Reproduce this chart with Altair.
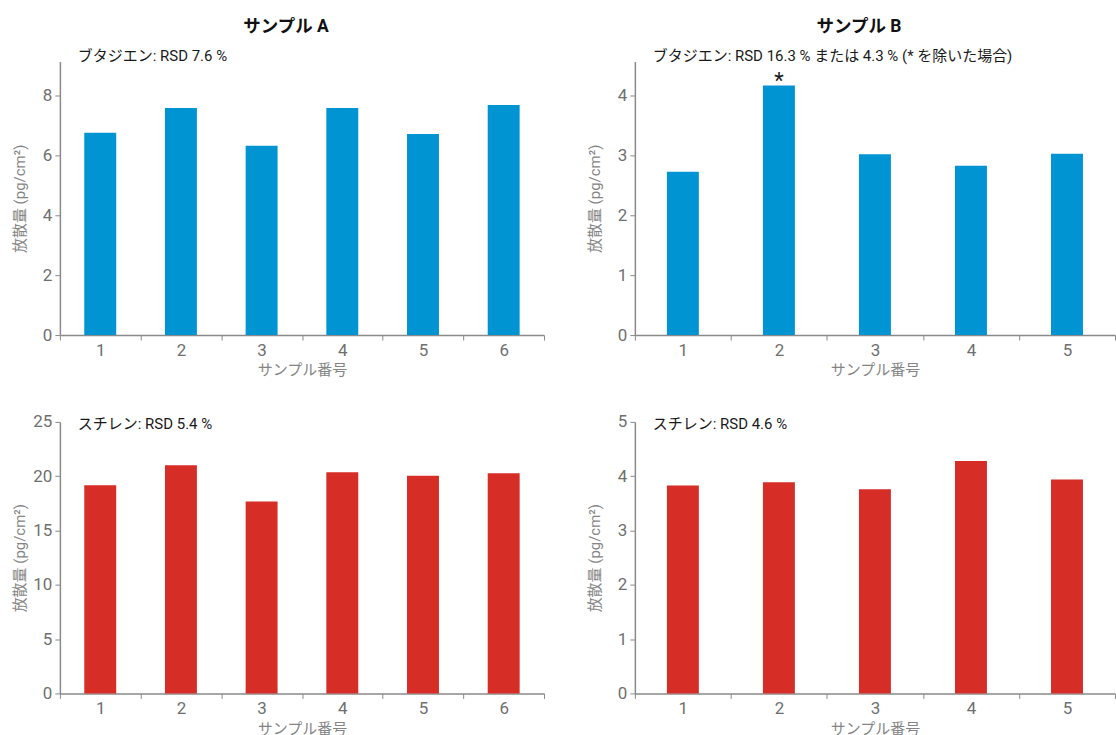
import altair as alt
import pandas as pd

FONT = "Roboto, Noto Sans CJK JP, sans-serif"

# ---- data ----
samples_a = [1, 2, 3, 4, 5, 6]
samples_b = [1, 2, 3, 4, 5]
butadiene_a = [6.77, 7.60, 6.33, 7.60, 6.73, 7.70]
butadiene_b = [2.73, 4.17, 3.02, 2.83, 3.03]
styrene_a = [19.16, 21.00, 17.68, 20.36, 20.05, 20.27]
styrene_b = [3.83, 3.89, 3.76, 4.28, 3.94]
outlier_b = ["", "*", "", "", ""]

column_titles = ["サンプル A", "サンプル B"]
notes = [
    "ブタジエン: RSD 7.6 %",
    "ブタジエン: RSD 16.3 % または 4.3 % (* を除いた場合)",
    "スチレン: RSD 5.4 %",
    "スチレン: RSD 4.6 %",
]
x_title = "サンプル番号"
y_title = "放散量 (pg/cm²)"

BLUE = "#0095d2"
RED = "#d62d26"


def panel(samples, values, color, domain, ticks, note, note_y, width, height,
          title=None, marks=None):
    df = pd.DataFrame({"sample": samples, "value": values})
    if marks is not None:
        df["mark"] = marks
    x = alt.X("sample:O", title=x_title,
              scale=alt.Scale(paddingInner=0, paddingOuter=0),
              axis=alt.Axis(labelAngle=0, tickBand="extent", titlePadding=5,
                            labelPadding=2))
    y = alt.Y("value:Q", title=y_title,
              scale=alt.Scale(domain=domain, nice=False, zero=True),
              axis=alt.Axis(values=ticks, titleX=-40, titleY=height / 2,
                            titleAngle=-90, titleBaseline="middle",
                            titleAlign="center", labelPadding=3))
    bars = alt.Chart(df).mark_bar(size=32, color=color).encode(x=x, y=y)
    note_df = pd.DataFrame({"note": [note]})
    txt = alt.Chart(note_df).mark_text(
        align="left", baseline="middle", fontSize=15, font=FONT, color="#1a1a1a"
    ).encode(x=alt.value(18), y=alt.value(note_y), text="note:N")
    layers = [bars, txt]
    if marks is not None:
        star = alt.Chart(df).mark_text(
            baseline="alphabetic", dy=3, fontSize=22, font=FONT, color="#1a1a1a"
        ).encode(x=x, y=y, text="mark:N")
        layers.append(star)
    ch = alt.layer(*layers).properties(width=width, height=height)
    if title is not None:
        ch = ch.properties(title=alt.TitleParams(
            title, fontSize=17.5, fontWeight="bold", font=FONT, color="#111111",
            anchor="middle", frame="group", offset=13, dx=-16))
    return ch


tl = panel(samples_a, butadiene_a, BLUE, [0, 9.15], [0, 2, 4, 6, 8], notes[0], -6,
           485, 274, title=column_titles[0])
tr = panel(samples_b, butadiene_b, BLUE, [0, 4.57], [0, 1, 2, 3, 4], notes[1], -6,
           481, 274, title=column_titles[1], marks=outlier_b)
bl = panel(samples_a, styrene_a, RED, [0, 25], [0, 5, 10, 15, 20, 25], notes[2], 2,
           485, 272)
br = panel(samples_b, styrene_b, RED, [0, 5], [0, 1, 2, 3, 4, 5], notes[3], 2,
           481, 272)

chart = alt.concat(
    tl, tr, bl, br, columns=2, spacing={"row": 87, "column": 91}, bounds="flush"
).properties(
    padding={"left": 13, "top": 17, "right": 0, "bottom": 0}
).resolve_scale(x="independent", y="independent").configure_view(
    stroke=None
).configure_axis(
    labelFont=FONT, titleFont=FONT, labelFontSize=17, titleFontSize=15,
    labelColor="#6f6f6f", titleColor="#858585", titleFontWeight="normal",
    domainColor="#8a8a8a", tickColor="#8a8a8a", domainWidth=1.5, tickWidth=1,
    tickSize=5, grid=False
)

chart.save("out.html", embed_options={"renderer": "svg", "actions": False})
